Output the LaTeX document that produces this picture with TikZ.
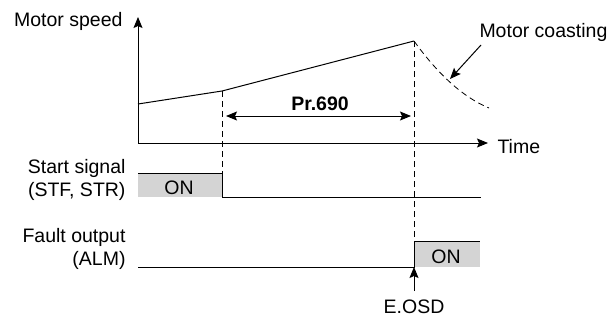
\documentclass[tikz,border=0pt]{standalone}
\usepackage{fontspec}
\setmainfont{Liberation Sans}
\usetikzlibrary{arrows.meta, positioning}

\tikzset{
	lbl/.style={anchor=base east, align=right, inner sep=0pt},
	txt/.style={anchor=base, inner sep=0pt},
	onbox/.style={fill=black!17, draw=none},
	guide/.style={dash pattern=on 6pt off 4pt, line width=0.8pt},
}

\begin{document}
\begin{tikzpicture}[x=1pt, y=-1pt, line width=1pt,
	font=\fontsize{19.5}{22.5}\selectfont,
	>={Stealth[length=11pt, width=9pt, inset=2pt]}]
		
		\useasboundingbox (0,0) rectangle (608,322);
		
		% axes and speed curve
		\coordinate (o) at (138,143);
		\coordinate (ytop) at (138,17);
		\coordinate (xend) at (488,143);
		\coordinate (s0) at (138,104);
		\coordinate (s1) at (222,91);
		\coordinate (s2) at (414,41);
		\coordinate (cst) at (450,79);
		\coordinate (cend) at (489,108);
		
		\node[lbl] (speed) at (123,26) {Motor speed};
		\node[txt, anchor=base west] (time) at (497,153) {Time};
		\node[txt, anchor=base west] (coast) at (479,37) {Motor coasting};
		
		\draw[->] (o) -- (ytop);
		\draw[->] (o) -- (xend);
		\draw (s0) -- (s1) -- (s2);
		\draw[guide] (s2) .. controls (435,70) and (460,96) .. (cend);
		\draw[->] (481,45) -- (cst);
		
		% Pr.690 span
		\node[txt, font=\fontsize{19.5}{22.5}\selectfont\bfseries] (pr) at (320,110) {Pr.690};
		\draw[<->] (226,116) -- (411,116);
		
		% start signal
		\node[lbl] (stf) at (126,196) {Start signal\\(STF, STR)};
		\fill[onbox] (138,173) rectangle (222,197);
		\node[txt] (on1) at (179,194) {ON};
		\draw (138,173) -- (222,173) -- (222,197) -- (481,197);
		
		% fault output
		\node[lbl] (alm) at (126,265) {Fault output\\(ALM)};
		\coordinate (f0) at (138,267);
		\coordinate (f1) at (414,267);
		\fill[onbox] (414,241) rectangle (480,267);
		\node[txt] (on2) at (446,263) {ON};
		\draw (f0) -- (f1) -- (414,241) -- (480,241);
		
		% guide lines
		\draw[guide] (s1) -- (222,173);
		\draw[guide] (s2) -- (414,241);
		
		\node[txt] (eosd) at (414,313) {E.OSD};
		\draw[->] (414,291) -- (f1);
		
\end{tikzpicture}
\end{document}
